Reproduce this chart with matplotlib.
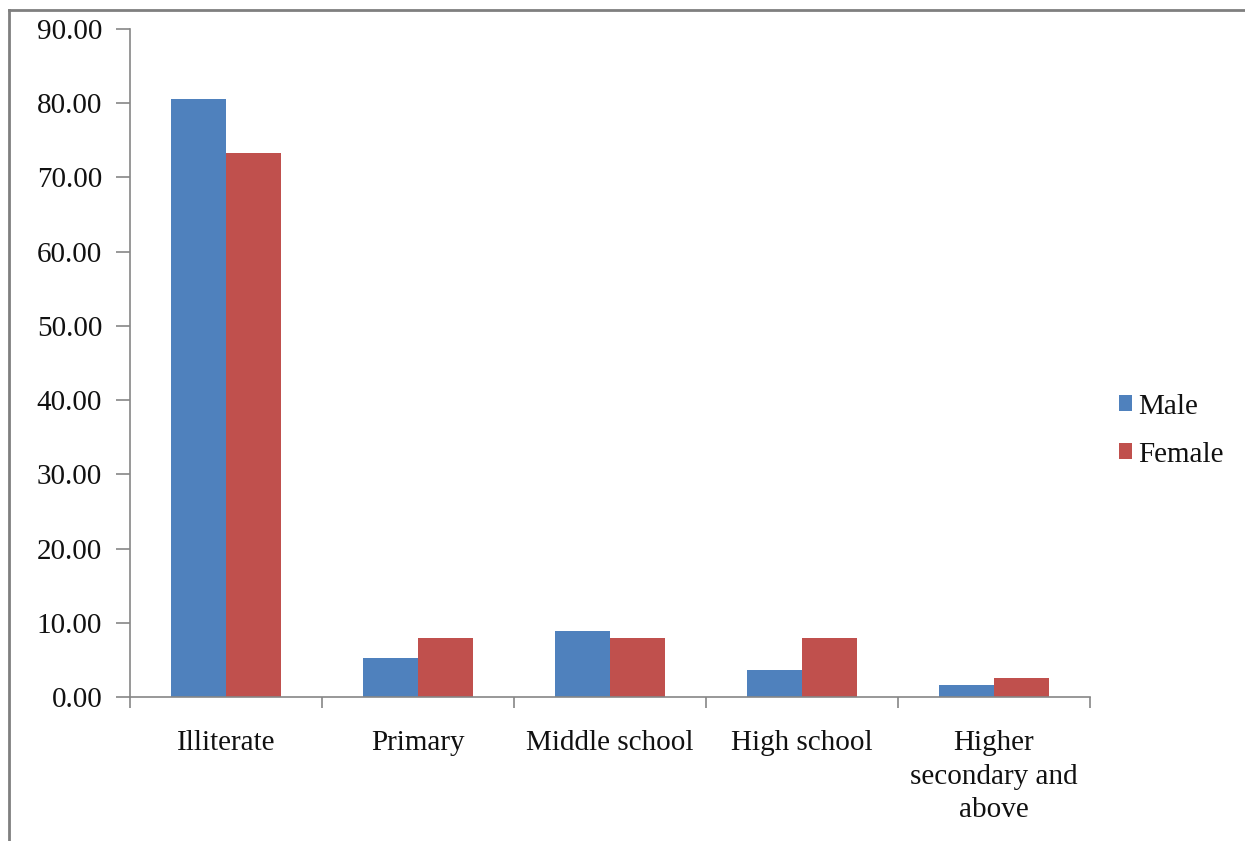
import matplotlib.pyplot as plt
from matplotlib.lines import Line2D
import numpy as np

categories = ['Illiterate', 'Primary', 'Middle school', 'High school',
              'Higher\nsecondary and\nabove']
male = [80.6, 5.2, 8.9, 3.7, 1.6]
female = [73.3, 8.0, 8.0, 8.0, 2.6]

plt.rcParams['font.family'] = ['Liberation Serif', 'DejaVu Serif']

fig = plt.figure(figsize=(12.45, 8.41), dpi=100)
ax = fig.add_axes([0.1044, 0.1712, 0.7711, 0.7943])

x = np.arange(len(categories))
w = 0.286
ax.bar(x - w / 2, male, w, color='#4F81BD', label='Male')
ax.bar(x + w / 2, female, w, color='#C0504D', label='Female')

ax.set_xlim(-0.5, len(categories) - 0.5)
ax.set_ylim(0, 90)
ax.set_yticks(np.arange(0, 91, 10))
ax.set_yticklabels([f'{v:.2f}' for v in np.arange(0, 91, 10)])

# category ticks between groups, labels centered
ax.set_xticks(np.arange(-0.5, len(categories), 1))
ax.set_xticklabels([])
ax.set_xticks(x, minor=True)
ax.set_xticklabels(categories, minor=True, linespacing=1.36)
ax.tick_params(axis='x', which='minor', length=0, pad=24, labelsize=21, labelcolor='#111111')
ax.tick_params(axis='x', which='major', length=8, color='#868686', width=1.2)
ax.tick_params(axis='y', length=10, color='#868686', width=1.2, pad=10, labelsize=21,
               labelcolor='#111111')

for s in ['top', 'right']:
    ax.spines[s].set_visible(False)
for s in ['left', 'bottom']:
    ax.spines[s].set_color('#868686')
    ax.spines[s].set_linewidth(1.2)

ax.legend(loc='center left', bbox_to_anchor=(0.878, 0.488), bbox_transform=fig.transFigure,
          frameon=False, fontsize=21, handlelength=0.45, handleheight=0.45,
          handletextpad=0.2, labelspacing=0.75, labelcolor='#111111')

# outer frame (top and left edge)
fig.add_artist(Line2D([0.0075, 1], [0.988, 0.988], transform=fig.transFigure, color='#7f7f7f', lw=2))
fig.add_artist(Line2D([0.0075, 0.0075], [0, 0.988], transform=fig.transFigure, color='#7f7f7f', lw=2))

fig.savefig('out.png', dpi=100)
